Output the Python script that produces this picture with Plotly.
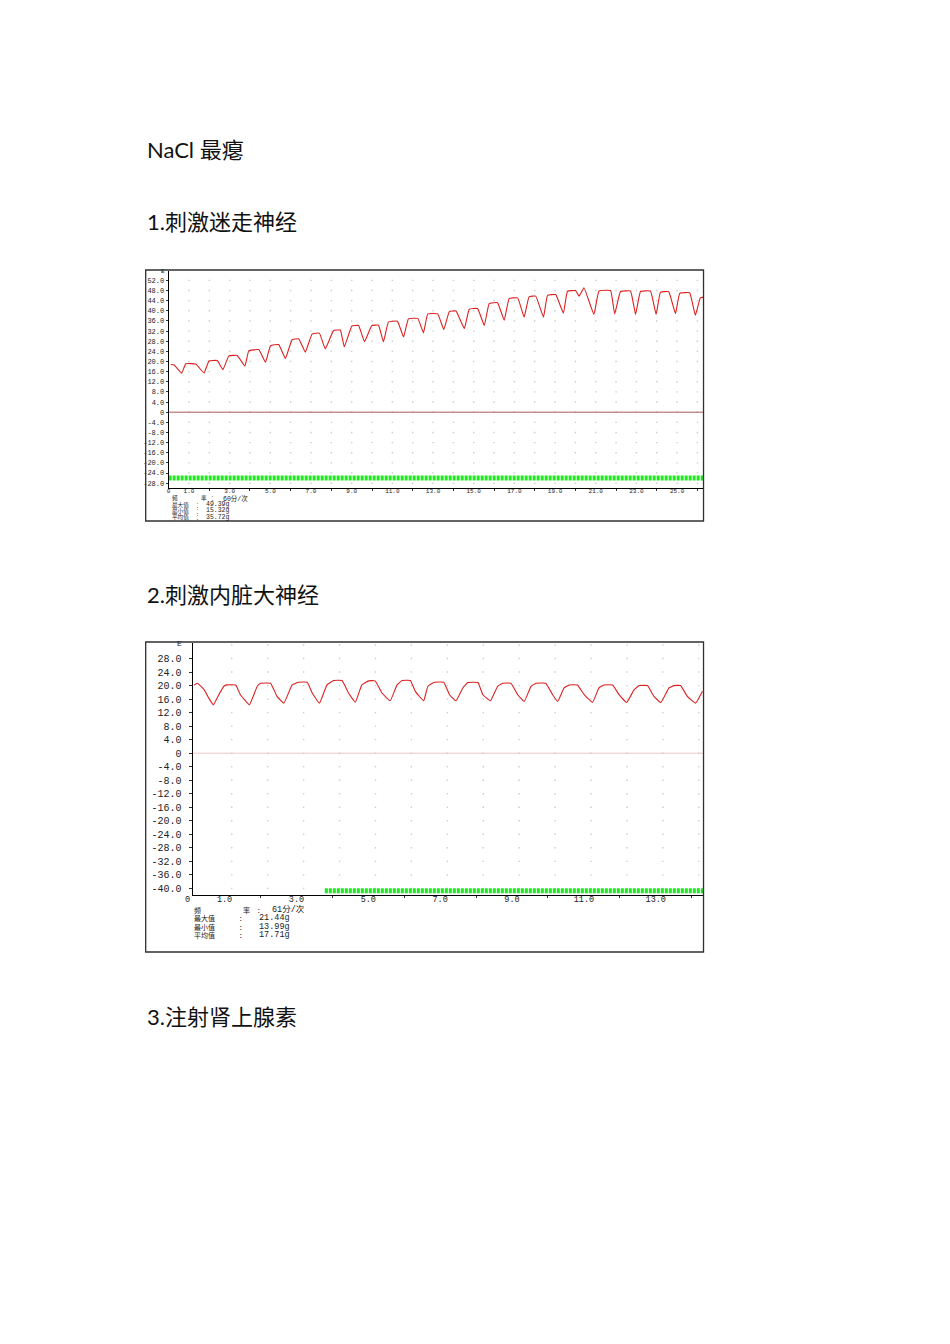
import plotly.graph_objects as go
import numpy as np

# ---------------- data ----------------
headings = ["NaCl 最瘪", "1.刺激迷走神经", "2.刺激内脏大神经", "3.注射肾上腺素"]

# chart 1: vagus stimulation (time s, force g)
vagus_t = [0.10, 0.27, 0.64, 0.84, 1.33, 1.74, 1.98, 2.39, 2.67, 2.96, 3.37, 3.75, 3.94, 4.43,
           4.76, 5.01, 5.41, 5.74, 6.07, 6.40, 6.72, 7.05, 7.41, 7.70, 8.11, 8.44, 8.64, 9.01,
           9.34, 9.63, 9.99, 10.32, 10.56, 10.81, 11.25, 11.55, 11.79, 12.25, 12.53, 12.74,
           13.23, 13.53, 13.80, 14.13, 14.54, 14.78, 15.19, 15.52, 15.76, 16.17, 16.50, 16.74,
           17.16, 17.48, 17.72, 18.05, 18.43, 18.63, 19.03, 19.41, 19.61, 20.01, 20.18, 20.42,
           20.91, 21.16, 21.73, 21.93, 22.22, 22.71, 22.96, 23.20, 23.69, 23.97, 24.18, 24.59,
           24.92, 25.13, 25.62, 25.90, 26.14, 26.30]
vagus_force = [18.8, 18.6, 15.4, 19.1, 19.0, 15.5, 20.2, 20.4, 16.8, 22.2, 22.4, 18.2, 24.2, 24.7,
               19.7, 26.2, 26.7, 21.2, 28.6, 28.9, 23.7, 30.8, 31.2, 25.0, 32.2, 32.4, 25.8, 34.0,
               34.2, 27.8, 34.2, 34.3, 27.8, 35.6, 35.9, 29.7, 36.8, 37.0, 31.3, 38.8,
               38.8, 32.6, 39.7, 39.9, 33.0, 40.6, 40.9, 34.2, 42.8, 43.2, 36.3, 44.8,
               45.1, 37.5, 45.5, 45.8, 37.5, 46.1, 46.4, 39.1, 47.7, 48.0, 45.8, 49.1,
               38.6, 47.8, 48.0, 38.8, 47.6, 47.8, 38.6, 47.6, 47.8, 38.6, 47.3, 47.5,
               38.9, 46.9, 47.1, 38.2, 45.1, 45.4]
stim1_t = [0.0, 26.3]
stim1_v = [-26.0, -26.0]
y1_ticks = list(range(-28, 53, 4))
x1_ticks = [0, 1, 3, 5, 7, 9, 11, 13, 15, 17, 19, 21, 23, 25]
stats1_names = ["频　　率", "最大值", "最小值", "平均值"]
stats1_values = ["60分/次", "49.39g", "15.32g", "35.72g"]

# chart 2: splanchnic stimulation
spl_t = [0.15, 0.24, 0.43, 0.56, 0.69, 0.84, 0.98, 1.07, 1.31, 1.44, 1.69, 1.91, 2.00, 2.28,
         2.46, 2.65, 2.88, 3.06, 3.30, 3.44, 3.64, 3.85, 4.04, 4.27, 4.45, 4.64, 4.82, 5.01,
         5.19, 5.38, 5.61, 5.80, 5.94, 6.17, 6.31, 6.54, 6.66, 6.84, 7.10, 7.26, 7.44, 7.63,
         7.77, 8.05, 8.19, 8.40, 8.60, 8.74, 8.97, 9.16, 9.34, 9.53, 9.67, 9.94, 10.13, 10.27,
         10.45, 10.59, 10.82, 11.01, 11.24, 11.42, 11.56, 11.80, 11.98, 12.19, 12.40, 12.54,
         12.77, 12.95, 13.14, 13.37, 13.51, 13.69, 13.88, 14.11, 14.30]
spl_force = [20.2, 20.7, 18.8, 16.3, 14.3, 17.3, 19.8, 20.2, 20.2, 17.3, 14.3, 19.8, 20.7, 20.7,
             16.8, 14.8, 20.2, 21.0, 21.0, 17.8, 14.8, 20.2, 21.5, 21.5, 17.8, 15.1, 20.2, 21.4,
             21.4, 17.8, 15.5, 20.2, 21.5, 21.5, 18.3, 15.5, 19.8, 21.0, 21.0, 17.3, 15.5, 19.3,
             20.9, 20.9, 17.3, 15.5, 19.8, 20.7, 20.7, 17.3, 15.3, 19.8, 20.7, 20.7, 17.3, 15.3,
             19.3, 20.2, 20.2, 17.3, 15.0, 19.3, 20.2, 20.2, 17.3, 15.0, 18.8, 20.0,
             20.0, 16.8, 15.0, 19.3, 20.0, 20.0, 16.8, 14.8, 18.3]
stim2_t = [3.79, 14.33]
stim2_v = [-40.7, -40.7]
y2_ticks = list(range(-40, 29, 4))
x2_ticks = [1, 3, 5, 7, 9, 11, 13]
stats2_names = ["频　　率", "最大值", "最小值", "平均值"]
stats2_values = ["61分/次", "21.44g", "13.99g", "17.71g"]

# ---------------- layout helpers ----------------
W, H = 950, 1344
def fx(p): return p / W
def fy(p): return 1 - p / H

def ylab(v):
    return "0" if v == 0 else f"{v:.1f}"

CJK = "Noto Sans CJK SC"
MONO = "Liberation Mono"
MONO_CJK = f"{MONO}, {CJK}"

fig = go.Figure()

# grid dots
gx1, gy1 = np.meshgrid(np.arange(1, 27, 1.0), np.array(y1_ticks, dtype=float))
fig.add_trace(go.Scatter(x=gx1.ravel(), y=gy1.ravel(), mode="markers", xaxis="x", yaxis="y",
                         marker=dict(symbol="square", size=1.4, color="#cccccc"),
                         hoverinfo="skip", showlegend=False))
gx2, gy2 = np.meshgrid(np.arange(1.2, 14.3, 1.0), np.array(y2_ticks + [32], dtype=float))
fig.add_trace(go.Scatter(x=gx2.ravel(), y=gy2.ravel(), mode="markers", xaxis="x2", yaxis="y2",
                         marker=dict(symbol="square", size=1.4, color="#cccccc"),
                         hoverinfo="skip", showlegend=False))

# zero lines
fig.add_trace(go.Scatter(x=[0, 26.3], y=[0, 0], mode="lines", xaxis="x", yaxis="y",
                         line=dict(color="#a85a5a", width=1), hoverinfo="skip", showlegend=False))
fig.add_trace(go.Scatter(x=[0.11, 14.33], y=[0, 0], mode="lines", xaxis="x2", yaxis="y2",
                         line=dict(color="#f0c8c8", width=1), hoverinfo="skip", showlegend=False))

# stimulus markers
fig.add_trace(go.Scatter(x=stim1_t, y=stim1_v, mode="lines", xaxis="x", yaxis="y",
                         line=dict(color="#1ee81e", width=5, dash="3px,1px"),
                         hoverinfo="skip", showlegend=False))
fig.add_trace(go.Scatter(x=stim2_t, y=stim2_v, mode="lines", xaxis="x2", yaxis="y2",
                         line=dict(color="#1ee81e", width=5, dash="3px,1px"),
                         hoverinfo="skip", showlegend=False))

# force traces
fig.add_trace(go.Scatter(x=vagus_t, y=vagus_force, mode="lines", xaxis="x", yaxis="y",
                         line=dict(color="#dc2020", width=1.1, shape="spline", smoothing=0.3),
                         showlegend=False))
fig.add_trace(go.Scatter(x=spl_t, y=spl_force, mode="lines", xaxis="x2", yaxis="y2",
                         line=dict(color="#dc2020", width=1.1, shape="spline", smoothing=0.3),
                         showlegend=False))

axis_common = dict(showgrid=False, zeroline=False, showline=True, linecolor="#000000",
                   linewidth=1, fixedrange=True)

fig.update_layout(
    width=W, height=H, margin=dict(l=0, r=0, t=0, b=0),
    paper_bgcolor="white", plot_bgcolor="white",
    xaxis=dict(domain=[fx(167), fx(703)], range=[0, 26.3], anchor="y",
               tickvals=x1_ticks, ticktext=["0" if v == 0 else f"{v:.1f}" for v in x1_ticks],
               ticks="", ticklabelstandoff=-3,
               tickfont=dict(family=MONO, size=6, color="#222"),
               minor=dict(tickvals=list(range(2, 27, 2)), ticks="outside", ticklen=2,
                          tickcolor="#333"),
               **axis_common),
    yaxis=dict(domain=[fy(488), fy(271)], range=[-29.9, 55.7], anchor="x",
               tickvals=y1_ticks, ticktext=[ylab(v) for v in y1_ticks],
               ticks="outside", ticklen=2, tickcolor="#333",
               tickfont=dict(family=MONO, size=7, color="#222"), **axis_common),
    xaxis2=dict(domain=[fx(191), fx(703)], range=[0.11, 14.33], anchor="y2",
                tickvals=x2_ticks, ticktext=[f"{v:.1f}" for v in x2_ticks],
                ticks="", ticklabelstandoff=-4,
                tickfont=dict(family=MONO, size=8.5, color="#222"),
                minor=dict(tickvals=list(range(2, 15, 2)), ticks="outside", ticklen=2,
                           tickcolor="#333"),
                **axis_common),
    yaxis2=dict(domain=[fy(895), fy(643)], range=[-41.96, 32.6], anchor="x2",
                tickvals=y2_ticks, ticktext=[ylab(v) for v in y2_ticks],
                ticks="outside", ticklen=3, tickcolor="#333", ticklabelstandoff=5,
                tickfont=dict(family=MONO, size=10, color="#222"), **axis_common),
)

# boxes
for (x0, y0, x1, y1) in [(144, 270, 703, 521), (144, 642, 703, 952)]:
    fig.add_shape(type="rect", xref="paper", yref="paper", x0=fx(x0), x1=fx(x1),
                  y0=fy(y1), y1=fy(y0), line=dict(color="#303030", width=1.3),
                  fillcolor="rgba(0,0,0,0)", layer="above")

ann = []
def add_text(text, px, py, size, family, anchor="left", color="#222"):
    ann.append(dict(text=text, x=fx(px), y=fy(py), xref="paper", yref="paper",
                    xanchor=anchor, yanchor="middle", showarrow=False, borderpad=0,
                    font=dict(family=family, size=size, color=color)))

for text, py in zip(headings, [149, 222, 595, 1016]):
    add_text(text, 144, py, 22, f"Century Gothic, Lato, {CJK}", color="#111")

def add_stats(names, values, name_x, second_x, colon_x, value_x, rows, cjk_size, val_size):
    for nm, val, py in zip(names, values, rows):
        parts = nm.split("　　")
        if len(parts) == 2:
            add_text(parts[0], name_x, py, cjk_size, CJK)
            add_text(parts[1], second_x, py, cjk_size, CJK)
            add_text("：", colon_x[0], py, cjk_size, CJK, anchor="center")
            add_text(val, value_x[0], py, val_size, MONO_CJK)
        else:
            add_text(nm, name_x, py, cjk_size, CJK)
            add_text("：", colon_x[1], py, cjk_size, CJK, anchor="center")
            add_text(val, value_x[1], py, val_size, MONO_CJK)

add_stats(stats1_names, stats1_values, 169, 198, (212, 197), (220, 203),
          [498, 504.5, 511, 517.5], 5.6, 6.5)
add_stats(stats2_names, stats2_values, 191, 241, (259, 241), (270, 257),
          [909.5, 918.2, 926.8, 935.4], 7, 8.5)

# top partial tick labels and chart-2 origin label
add_text("E", 164, 271, 6, MONO, anchor="right")
add_text("E", 181, 643, 8, MONO, anchor="right")
add_text("0", 186, 900, 8.5, MONO, anchor="center")
fig.update_layout(annotations=ann)

fig.write_html("out.html", config={"displayModeBar": False},
               post_script="document.body.style.margin='0';")
